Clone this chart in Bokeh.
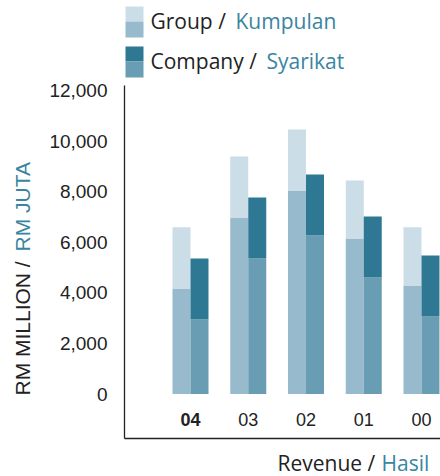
from bokeh.plotting import figure
from bokeh.models import (Range1d, FixedTicker, NumeralTickFormatter, ColumnDataSource,
                          Label, LinearAxis)
from bokeh.transform import dodge
from bokeh.core.properties import value
from bokeh.embed import file_html
from bokeh.resources import INLINE
import math

# ---------------- data ----------------
years = ["04", "03", "02", "01", "00"]
group_lower = [4170, 6980, 8050, 6150, 4290]
group_total = [6590, 9390, 10460, 8440, 6590]
company_lower = [2950, 5360, 6270, 4610, 3070]
company_total = [5360, 7770, 8680, 7020, 5480]
y_ticks = [0, 2000, 4000, 6000, 8000, 10000, 12000]
legend_en = ["Group / ", "Company / "]
legend_ms = ["Kumpulan", "Syarikat"]
y_title_en = "RM MILLION / "
y_title_ms = "RM JUTA"
x_title_en = "Revenue / "
x_title_ms = "Hasil"

# ---------------- styles ----------------
C_GROUP_TOP = "#cbdde7"
C_GROUP_LOW = "#97bacc"
C_COMP_TOP = "#2e7894"
C_COMP_LOW = "#689db4"
C_TEXT = "#222222"
C_TEAL = "#3a85a0"
SANS = "Liberation Sans"
HUM = "Open Sans"

W, H = 440, 476

# layout geometry (pixels on the canvas) -> data coordinates
X0_PX, X_PX_PER_UNIT = 190.0, 57.75
Y0_PX, Y_PX_PER_UNIT = 393.6, 0.0253


def dx(px):
    return (px - X0_PX) / X_PX_PER_UNIT


def dy(py):
    return (Y0_PX - py) / Y_PX_PER_UNIT


AX_LEFT_PX, AX_TOP_PX, AX_BOTTOM_PX = 124, 85, 438

p = figure(width=W, height=H, output_backend="svg", toolbar_location=None,
           x_range=Range1d(dx(0), dx(W)), y_range=Range1d(dy(H), dy(0)),
           min_border=0, x_axis_type=None, y_axis_type=None)
p.grid.visible = False
p.outline_line_color = None

# ---------------- bars ----------------
x_pos = list(range(len(years)))
src = ColumnDataSource(dict(
    x=x_pos, years=years,
    g_low=group_lower, g_tot=group_total,
    c_low=company_lower, c_tot=company_total,
    zero=[0] * len(years),
    style=["bold" if i == 0 else "normal" for i in range(len(years))],
    lab_y=[dy(419)] * len(years),
))

bw = 18 / X_PX_PER_UNIT
off = bw / 2
p.vbar(x=dodge("x", -off), width=bw, bottom="zero", top="g_low", source=src,
       fill_color=C_GROUP_LOW, line_color=None)
p.vbar(x=dodge("x", -off), width=bw, bottom="g_low", top="g_tot", source=src,
       fill_color=C_GROUP_TOP, line_color=None)
p.vbar(x=dodge("x", off), width=bw, bottom="zero", top="c_low", source=src,
       fill_color=C_COMP_LOW, line_color=None)
p.vbar(x=dodge("x", off), width=bw, bottom="c_low", top="c_tot", source=src,
       fill_color=C_COMP_TOP, line_color=None)

# category labels (inside the axes box)
p.text(x="x", y="lab_y", text="years", source=src, text_font=value(SANS),
       text_font_size="18px", text_font_style="style", text_color=C_TEXT,
       text_align="center", text_baseline="middle")

# ---------------- axes ----------------
yax = LinearAxis(fixed_location=dx(AX_LEFT_PX), bounds=(dy(AX_BOTTOM_PX), dy(AX_TOP_PX)))
yax.ticker = FixedTicker(ticks=y_ticks)
yax.formatter = NumeralTickFormatter(format="0,0")
yax.major_tick_out = 0
yax.major_tick_in = 0
yax.minor_tick_out = 0
yax.minor_tick_in = 0
yax.major_label_standoff = 17
yax.major_label_text_font = SANS
yax.major_label_text_font_size = "19px"
yax.major_label_text_color = C_TEXT
yax.axis_line_color = C_TEXT
yax.axis_line_width = 1.3
p.add_layout(yax, "left")

xax = LinearAxis(fixed_location=dy(AX_BOTTOM_PX), bounds=(dx(AX_LEFT_PX), dx(W)))
xax.ticker = FixedTicker(ticks=[])
xax.major_tick_out = 0
xax.major_tick_in = 0
xax.minor_tick_out = 0
xax.minor_tick_in = 0
xax.major_label_text_font_size = "0px"
xax.axis_line_color = C_TEXT
xax.axis_line_width = 1.3
p.add_layout(xax, "below")

# ---------------- legend ----------------
sw_l, sw_r = dx(125), dx(143)
p.quad(left=[sw_l] * 2, right=[sw_r] * 2, top=[dy(6), dy(46)], bottom=[dy(21), dy(61)],
       fill_color=[C_GROUP_TOP, C_COMP_TOP], line_color=None)
p.quad(left=[sw_l] * 2, right=[sw_r] * 2, top=[dy(21), dy(61)], bottom=[dy(37), dy(77)],
       fill_color=[C_GROUP_LOW, C_COMP_LOW], line_color=None)
leg_base = [dy(20), dy(60)]
p.text(x=[dx(150)] * 2, y=leg_base, text=legend_en, text_font=value(HUM),
       text_font_size="21px", text_color=C_TEXT, text_baseline="alphabetic",
       text_align="left")
p.text(x=[dx(235), dx(266)], y=leg_base, text=legend_ms, text_font=value(HUM),
       text_font_size="21px", text_color=C_TEAL, text_baseline="alphabetic",
       text_align="left")

# ---------------- axis titles (two-coloured) ----------------
p.add_layout(Label(x=22, y=H - 395, x_units="screen", y_units="screen", text=y_title_en,
                   angle=math.pi / 2, text_font=SANS, text_font_size="21px",
                   text_color=C_TEXT, text_align="left", text_baseline="middle"))
p.add_layout(Label(x=22, y=H - 251, x_units="screen", y_units="screen", text=y_title_ms,
                   angle=math.pi / 2, text_font=SANS, text_font_size="21px",
                   text_color=C_TEAL, text_align="left", text_baseline="middle"))
p.add_layout(Label(x=277, y=H - 462, x_units="screen", y_units="screen", text=x_title_en,
                   text_font=HUM, text_font_size="21px", text_color=C_TEXT,
                   text_align="left", text_baseline="alphabetic"))
p.add_layout(Label(x=381, y=H - 462, x_units="screen", y_units="screen", text=x_title_ms,
                   text_font=HUM, text_font_size="21px", text_color=C_TEAL,
                   text_align="left", text_baseline="alphabetic"))

open("out.html", "w").write(file_html(p, INLINE))
